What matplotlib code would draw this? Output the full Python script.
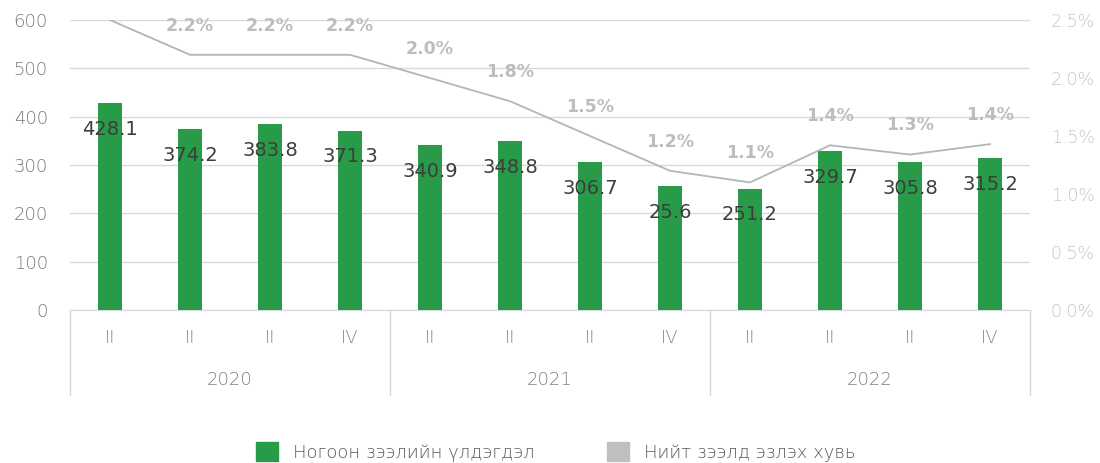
import matplotlib
matplotlib.use('Agg')
import matplotlib.pyplot as plt
import matplotlib.transforms as mtransforms
from matplotlib.patches import Patch
import numpy as np

plt.rcParams['font.family'] = ['DejaVu Sans']

# data
quarters = ['II', 'II', 'II', 'IV', 'II', 'II', 'II', 'IV', 'II', 'II', 'II', 'IV']
years = ['2020', '2021', '2022']
green_loans = [428.1, 374.2, 383.8, 371.3, 340.9, 348.8, 306.7, 255.6, 251.2, 329.7, 305.8, 315.2]
green_labels = ['428.1', '374.2', '383.8', '371.3', '340.9', '348.8', '306.7', '25.6', '251.2', '329.7', '305.8', '315.2']
share_pct = [2.5, 2.2, 2.2, 2.2, 2.0, 1.8, 1.5, 1.2, 1.1, 1.42, 1.34, 1.43]
# first label sits above the chart in the original, so it is not shown
share_labels = ['', '2.2%', '2.2%', '2.2%', '2.0%', '1.8%', '1.5%', '1.2%', '1.1%', '1.4%', '1.3%', '1.4%']

green = '#279b48'
line_grey = '#b5b5b5'
grid_col = '#d9d9d9'

fig = plt.figure(figsize=(11, 4.63), dpi=100)
ax = fig.add_axes([70/1100, 1-310/463, 960/1100, 290/463])
ax2 = ax.twinx()

x = np.arange(len(green_loans))
ax.bar(x, green_loans, width=0.31, color=green, zorder=3)
for xi, v, lab in zip(x, green_loans, green_labels):
    ax.annotate(lab, (xi, v), xytext=(0, -19), textcoords='offset points',
                ha='center', va='center', fontsize=14, color='#3d3d3d', zorder=5)

ax.set_xlim(-0.5, len(x) - 0.5)
ax.set_ylim(0, 600)
ax.set_yticks(range(0, 601, 100))
ax.yaxis.grid(True, color=grid_col, lw=1)
ax.set_axisbelow(True)
for s in ['top', 'right', 'left']:
    ax.spines[s].set_visible(False)
ax.spines['bottom'].set_color(grid_col)
ax.tick_params(axis='y', length=0, labelsize=13, labelcolor='#777777', pad=16)
ax.set_xticks(x)
ax.set_xticklabels(quarters, fontweight='light')
ax.tick_params(axis='x', length=0, labelsize=13, labelcolor='#8a8a8a', pad=14)
for t in ax.get_yticklabels():
    t.set_fontweight('light')

ax2.plot(x, share_pct, color=line_grey, lw=1.3, zorder=4)
for xi, v, lab in zip(x, share_pct, share_labels):
    ax2.annotate(lab, (xi, v), xytext=(0, 21), textcoords='offset points',
                 ha='center', va='center', fontsize=12.5, color='#bdbdbd',
                 fontweight='bold')
ax2.set_ylim(0, 2.5)
ax2.set_yticks(np.arange(0, 2.51, 0.5))
ax2.set_yticklabels(['%.1f%%' % t for t in np.arange(0, 2.51, 0.5)], fontweight='light')
for s in ['top', 'right', 'left', 'bottom']:
    ax2.spines[s].set_visible(False)
ax2.tick_params(axis='y', length=0, labelsize=12.5, labelcolor='#c4c4c4', pad=15)

# year groups under the quarters
trans = mtransforms.blended_transform_factory(ax.transData, ax.transAxes)
for bx in [-0.5, 3.5, 7.5, 11.5]:
    ax.plot([bx, bx], [0, -85/290], color=grid_col, lw=1, transform=trans, clip_on=False)
for i, yr in enumerate(years):
    ax.text(4*i + 1.5, -70/290, yr, transform=trans, ha='center', va='center',
            fontsize=13, color='#7f7f7f', fontweight='light')

handles = [Patch(color=green, label='Ногоон зээлийн үлдэгдэл'),
           Patch(color='#bfbfbf', label='Нийт зээлд эзлэх хувь')]
leg = fig.legend(handles=handles, loc='center', bbox_to_anchor=(0.505, 1-452/463), ncol=2,
                 frameon=False, handlelength=1.25, handleheight=1.25,
                 columnspacing=4.0, handletextpad=0.8, labelcolor='#595959',
                 prop={'weight': 'light', 'size': 13})

fig.savefig('out.png', dpi=100)
